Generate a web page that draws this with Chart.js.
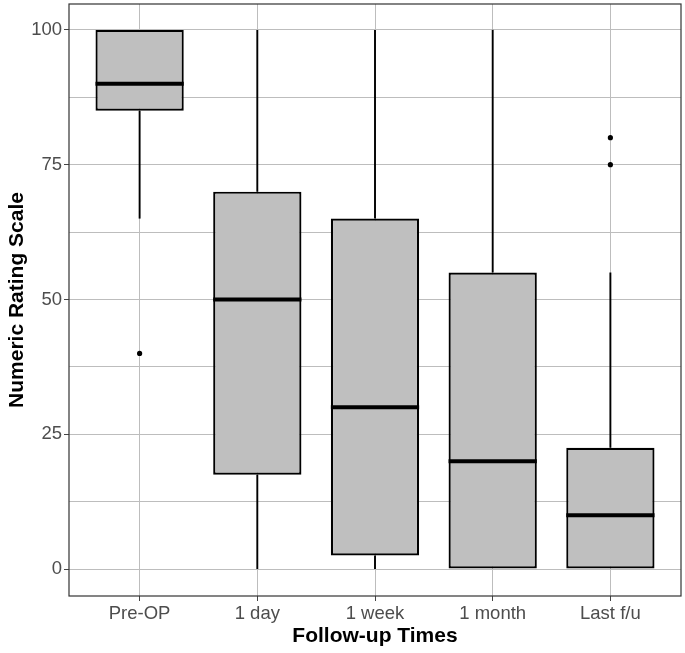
<!DOCTYPE html>
<html><head><meta charset="utf-8">
<script src="https://cdn.jsdelivr.net/npm/chart.js@4"></script>
<style>html,body{margin:0;padding:0;background:#fff}#wrap{width:685px;height:653px}</style>
</head><body><div id="wrap"><canvas id="c" width="685" height="653"></canvas></div>
<script>
const categories = ['Pre-OP', '1 day', '1 week', '1 month', 'Last f/u'];
const q1 = [85, 17.5, 2.5, 0, 0];
const q3 = [100, 70, 65, 55, 22.5];
const medians = [90, 50, 30, 20, 10];
const whiskerLow = [65, 0, 0, 0, 0];
const whiskerHigh = [100, 100, 100, 100, 55];
const outlierCat = [1, 5, 5];
const outlierVal = [40, 75, 80];
const yTicks = [0, 25, 50, 75, 100];
const yMinorTicks = [12.5, 37.5, 62.5, 87.5];

const boxPlugin = {
  id: 'boxPlugin',
  beforeDatasetsDraw(chart) {
    const ctx = chart.ctx, xs = chart.scales.x, ys = chart.scales.y;
    ctx.save();
    ctx.strokeStyle = '#000';
    ctx.lineWidth = 1.9;
    categories.forEach((c, i) => {
      const x = xs.getPixelForValue(i + 1);
      ctx.beginPath();
      ctx.moveTo(x, ys.getPixelForValue(q3[i]));
      ctx.lineTo(x, ys.getPixelForValue(whiskerHigh[i]));
      ctx.moveTo(x, ys.getPixelForValue(q1[i]));
      ctx.lineTo(x, ys.getPixelForValue(whiskerLow[i]));
      ctx.stroke();
    });
    ctx.restore();
  },
  afterDatasetsDraw(chart) {
    const ctx = chart.ctx, xs = chart.scales.x, ys = chart.scales.y;
    const meta = chart.getDatasetMeta(0);
    ctx.save();
    ctx.strokeStyle = '#000';
    ctx.lineWidth = 4;
    categories.forEach((c, i) => {
      const x = xs.getPixelForValue(i + 1);
      const w = meta.data[i].width;
      const y = ys.getPixelForValue(medians[i]);
      ctx.beginPath();
      ctx.moveTo(x - w / 2, y);
      ctx.lineTo(x + w / 2, y);
      ctx.stroke();
    });
    ctx.restore();
  },
  afterDraw(chart) {
    const ctx = chart.ctx, a = chart.chartArea;
    ctx.save();
    ctx.strokeStyle = '#333';
    ctx.lineWidth = 1.2;
    ctx.strokeRect(a.left, a.top, a.right - a.left, a.bottom - a.top);
    ctx.restore();
  }
};

new Chart(document.getElementById('c'), {
  type: 'bar',
  data: {
    datasets: [
      {
        type: 'bar',
        data: categories.map((c, i) => ({ x: i + 1, y: [q1[i], q3[i]] })),
        backgroundColor: '#bfbfbf',
        borderColor: '#000',
        borderWidth: 2.2,
        borderSkipped: false,
        barPercentage: 0.75,
        categoryPercentage: 1,
        order: 1
      },
      {
        type: 'scatter',
        data: outlierCat.map((c, i) => ({ x: c, y: outlierVal[i] })),
        backgroundColor: '#000',
        borderWidth: 0,
        pointRadius: 2.6,
        order: 0
      }
    ]
  },
  options: {
    responsive: false,
    animation: false,
    devicePixelRatio: 1,
    layout: { padding: { top: 3, right: 3, left: 0, bottom: 0 } },
    plugins: { legend: { display: false }, tooltip: { enabled: false } },
    scales: {
      x: {
        type: 'linear',
        offset: false,
        min: 0.4,
        max: 5.6,
        afterBuildTicks: s => { s.ticks = categories.map((c, i) => ({ value: i + 1 })); },
        afterFit: s => { s.height = 57; s.paddingLeft = 0; s.paddingRight = 0; },
        border: { display: false },
        grid: { offset: false, color: '#bdbdbd', lineWidth: 1, tickLength: 5, tickColor: '#444' },
        ticks: {
          autoSkip: false, maxRotation: 0, padding: 2,
          color: '#4d4d4d',
          font: { family: 'Liberation Sans, Arial, sans-serif', size: 18.5 },
          callback: v => categories[Math.round(v) - 1]
        },
        title: {
          display: true, text: 'Follow-up Times', color: '#000',
          font: { family: 'Liberation Sans, Arial, sans-serif', size: 21, weight: 'bold' },
          padding: { top: 0, bottom: 4 }
        }
      },
      y: {
        type: 'linear',
        min: -5,
        max: 104.8,
        afterBuildTicks: s => { s.ticks = yTicks.concat(yMinorTicks).sort((a, b) => a - b).map(v => ({ value: v })); },
        afterFit: s => { s.width = 69; s.paddingTop = 0; s.paddingBottom = 0; },
        border: { display: false },
        grid: {
          color: '#bdbdbd', lineWidth: 1, tickLength: 5,
          tickColor: ctx => (ctx.tick && yTicks.includes(ctx.tick.value)) ? '#444' : 'rgba(0,0,0,0)'
        },
        ticks: {
          autoSkip: false, padding: 2,
          color: '#4d4d4d',
          font: { family: 'Liberation Sans, Arial, sans-serif', size: 18.5 },
          callback: v => yTicks.includes(v) ? String(v) : ''
        },
        title: {
          display: true, text: 'Numeric Rating Scale', color: '#000',
          font: { family: 'Liberation Sans, Arial, sans-serif', size: 21, weight: 'bold' },
          padding: { top: 5, bottom: 0 }
        }
      }
    }
  },
  plugins: [boxPlugin]
});
</script>
</body></html>
